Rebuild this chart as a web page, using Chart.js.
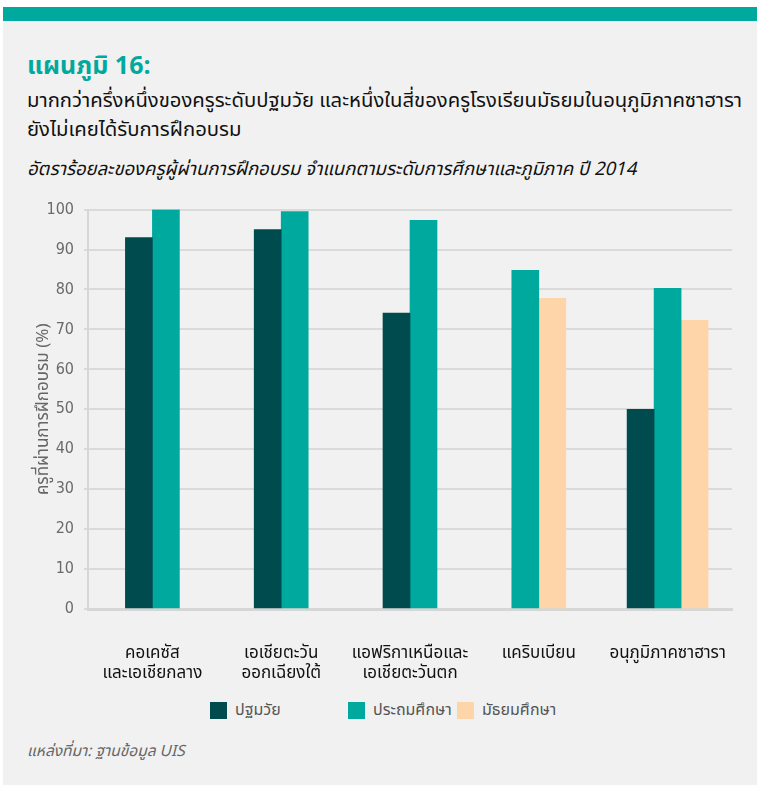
<!DOCTYPE html>
<html>
<head>
<meta charset="utf-8">
<script src="https://cdn.jsdelivr.net/npm/chart.js@4.4.1/dist/chart.umd.min.js"></script>
<style>
  html, body { margin: 0; padding: 0; background: #fff; }
  body { width: 757px; height: 785px; position: relative; overflow: hidden;
         font-family: "Noto Sans Thai", "Noto Sans", sans-serif; }
  .panel { position: absolute; left: 3px; top: 7px; width: 754px; height: 778px; background: #f1f1f1; }
  .topbar { position: absolute; left: 0; top: 0; width: 100%; height: 14px; background: #00a99d; }
  .txt { position: absolute; left: 24px; white-space: nowrap; }
  #t1 { top: 40px; font-size: 25px; font-weight: bold; color: #00a99d; }
  #t2 { top: 79px; font-size: 20.3px; color: #111; line-height: 29px; }
  #t3 { top: 148px; font-size: 18.5px; font-style: italic; color: #111; }
  #src { top: 733px; font-size: 15.5px; font-style: italic; color: #666; }
  #wrap { position: absolute; left: 0; top: 190px; width: 757px; height: 488px; }
  #legend { position: absolute; top: 698px; left: 0; width: 757px; height: 22px; }
  .item { position: absolute; top: 0; display: flex; align-items: center; font-size: 16px; color: #555; }
  .item span { display: inline-block; width: 17px; height: 17px; margin-right: 8px; }
</style>
</head>
<body>
<div class="panel">
  <div class="topbar"></div>
  <div class="txt" id="t1">แผนภูมิ 16:</div>
  <div class="txt" id="t2">มากกว่าครึ่งหนึ่งของครูระดับปฐมวัย และหนึ่งในสี่ของครูโรงเรียนมัธยมในอนุภูมิภาคซาฮารา<br>ยังไม่เคยได้รับการฝึกอบรม</div>
  <div class="txt" id="t3">อัตราร้อยละของครูผู้ผ่านการฝึกอบรม จำแนกตามระดับการศึกษาและภูมิภาค ปี 2014</div>
  <div class="txt" id="src">แหล่งที่มา: ฐานข้อมูล UIS</div>
</div>
<div id="wrap"><canvas id="chart" width="757" height="488"></canvas></div>
<div id="legend"></div>
<script>
// regions (x axis)
const regions = [
  ['คอเคซัส', 'และเอเชียกลาง'],
  ['เอเชียตะวัน', 'ออกเฉียงใต้'],
  ['แอฟริกาเหนือและ', 'เอเชียตะวันตก'],
  'แคริบเบียน',
  'อนุภูมิภาคซาฮารา'
];
// % of trained teachers, 2014
const preprimary = [93, 95, 74.1, null, 50];
const primary    = [100, 99.5, 97.3, 84.8, 80.3];
const secondary  = [null, null, null, 77.8, 72.3];

const yTicks = [0, 10, 20, 30, 40, 50, 60, 70, 80, 90, 100];

const thaiFont = '"Noto Sans Thai", "Noto Sans", sans-serif';

const chart = new Chart(document.getElementById('chart'), {
  type: 'bar',
  data: {
    labels: regions,
    datasets: [
      { label: 'ปฐมวัย', data: preprimary, backgroundColor: '#004b4e' },
      { label: 'ประถมศึกษา', data: primary, backgroundColor: '#00a99d' },
      { label: 'มัธยมศึกษา', data: secondary, backgroundColor: '#fdd5a8' }
    ]
  },
  options: {
    responsive: false,
    animation: false,
    skipNull: true,
    barThickness: 27,
    layout: { padding: { top: 6, right: 25, left: 34, bottom: 0 } },
    plugins: {
      tooltip: { enabled: false },
      legend: { display: false }
    },
    scales: {
      x: {
        afterFit: s => { s.height = 69; },
        grid: { display: false },
        border: { display: true, color: '#d6d6d6', width: 3 },
        ticks: {
          color: '#111', padding: 28, maxRotation: 0, autoSkip: false,
          font: { family: thaiFont, size: 17, lineHeight: 1.15 }
        }
      },
      y: {
        min: 0, max: 100,
        afterBuildTicks: s => { s.ticks = yTicks.map(v => ({ value: v })); },
        afterFit: s => { s.width = 54; },
        grid: { color: '#dadada', lineWidth: 2, tickLength: 4 },
        border: { display: true, color: '#d6d6d6', width: 2 },
        ticks: {
          color: '#6a6a6a', padding: 10,
          font: { family: '"Liberation Sans Narrow", "DejaVu Sans Condensed", sans-serif', size: 16 }
        },
        title: {
          display: true, text: 'ครูที่ผ่านการฝึกอบรม (%)', color: '#666',
          font: { family: thaiFont, size: 17 }, padding: { top: 0, bottom: 0 }
        }
      }
    }
  }
});

// legend built from the datasets
const legendX = [210, 348, 457];
const legend = document.getElementById('legend');
chart.data.datasets.forEach((ds, i) => {
  const el = document.createElement('div');
  el.className = 'item';
  el.style.left = legendX[i] + 'px';
  el.innerHTML = '<span style="background:' + ds.backgroundColor + '"></span>' + ds.label;
  legend.appendChild(el);
});
</script>
</body>
</html>
